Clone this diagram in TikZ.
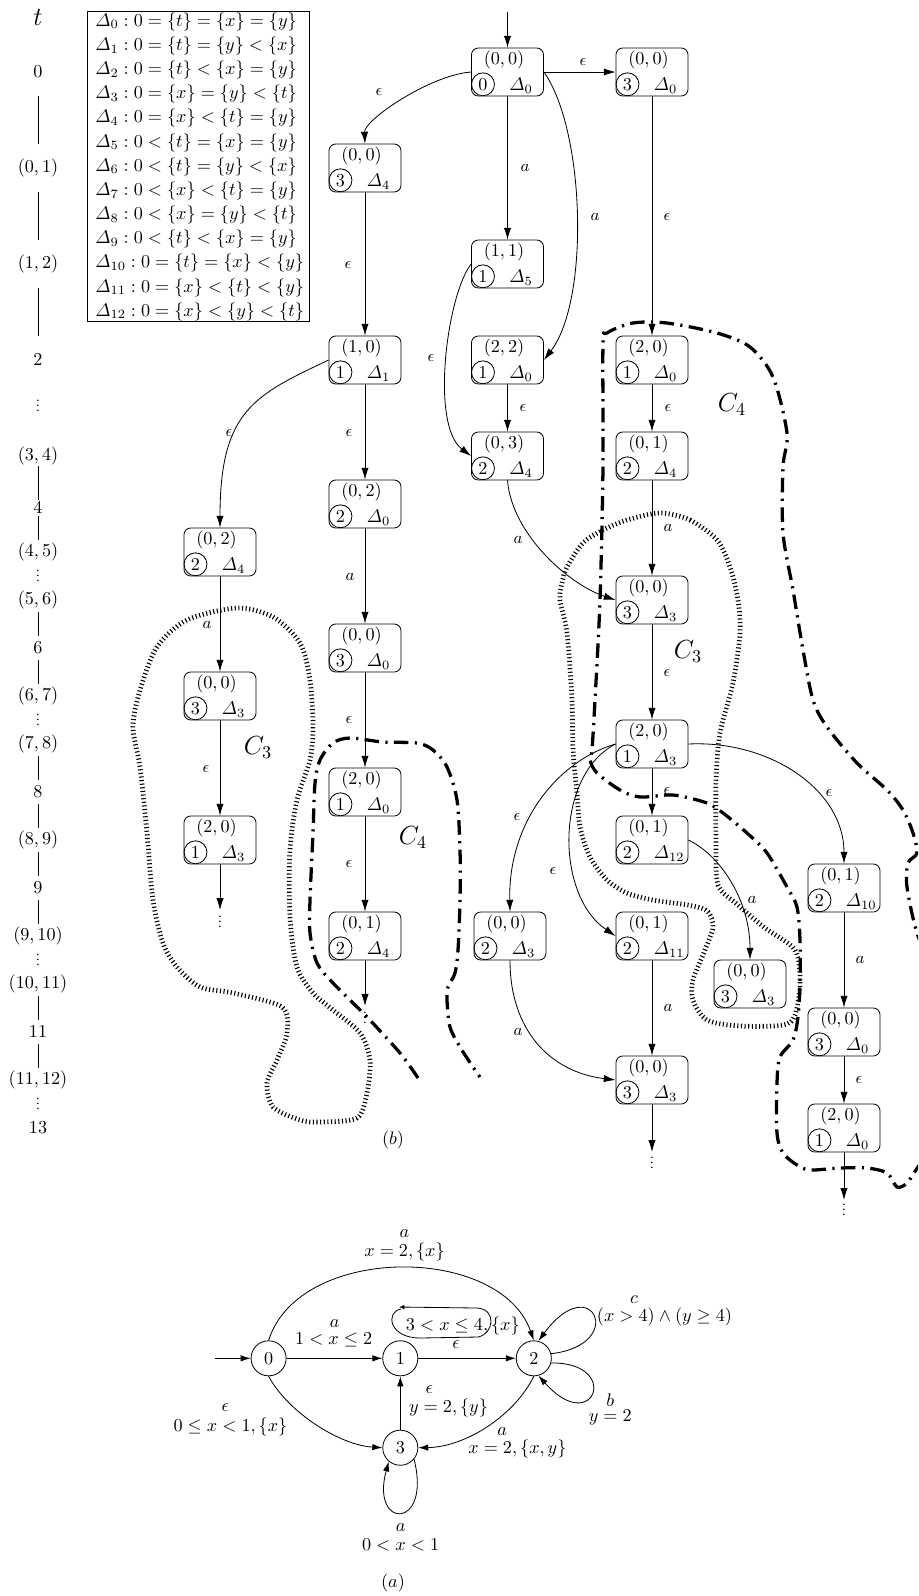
\documentclass[tikz,border=0pt]{standalone}
\usepackage{amsmath,amssymb}
\usetikzlibrary{arrows.meta,calc,shapes.geometric}
\tikzset{
  ln/.style={line width=0.45pt},
  arr/.style={ln,-{Latex[length=6.5pt,width=4pt]}},
  arra/.style={ln,-{Latex[length=5.5pt,width=3.5pt]}},
  cbox/.style={draw,ln,rounded corners=3.7pt,minimum width=39.6pt,minimum height=26.4pt,inner sep=0pt},
  ctop/.style={inner sep=0pt},
  cst/.style={draw,ln,circle,minimum size=12.6pt,inner sep=0pt},
  cdl/.style={inner sep=0pt,anchor=west},
  lab/.style={inner sep=0pt,font=\small},
  alab/.style={inner sep=0pt},
  tlab/.style={inner sep=0pt},
  tbar/.style={ln},
  loc/.style={draw,ln,circle,minimum size=19.3pt,inner sep=0pt},
  czone/.style={line width=2.6pt,dash pattern=on 0.6pt off 1.4pt},
  dzone/.style={line width=1.8pt,dash pattern=on 8pt off 3.5pt on 1.2pt off 3.5pt},
  bigl/.style={inner sep=0pt,font=\Large},
}
\newcommand{\cfgbox}[6]{%
  \node[cbox] (#1) at (#2,#3) {};
  \node[ctop] (#1t) at ($(#1.center)+(-3.5,-12)$) {$#4$};
  \node[cst] (#1c) at ($(#1.center)+(-24.5,12.3)$) {$#5$};
  \node[cdl] (#1d) at ($(#1.center)+(1.5,13.5)$) {$\varDelta_{#6}$};
}
\newcommand{\vd}{\scalebox{1}[0.7]{$\vdots$}}
\begin{document}
\begin{tikzpicture}[x=0.55pt,y=-0.55pt]
\useasboundingbox (0,0) rectangle (918,1596);

% ---------- time column ----------
\node[tlab,font=\Large] (tt) at (38,17) {$t$};
\node[tlab] (T0) at (38,72) {$0$};
\node[tlab] (T1) at (38,168) {$(0,1)$};
\node[tlab] (T2) at (38,264) {$(1,2)$};
\node[tlab] (T3) at (38,360) {$2$};
\node[tlab] (D1) at (38,402) {\vd};
\node[tlab] (T4) at (38,456) {$(3,4)$};
\node[tlab] (T5) at (38,508) {$4$};
\node[tlab] (T6) at (38,552) {$(4,5)$};
\node[tlab] (D2) at (38,572) {\vd};
\node[tlab] (T7) at (38,600) {$(5,6)$};
\node[tlab] (T8) at (38,648) {$6$};
\node[tlab] (T9) at (38,696) {$(6,7)$};
\node[tlab] (D3) at (38,716) {\vd};
\node[tlab] (T10) at (38,744) {$(7,8)$};
\node[tlab] (T11) at (38,792) {$8$};
\node[tlab] (T12) at (38,840) {$(8,9)$};
\node[tlab] (T13) at (38,888) {$9$};
\node[tlab] (T14) at (38,936) {$(9,10)$};
\node[tlab] (D4) at (38,956) {\vd};
\node[tlab] (T15) at (38,984) {$(10,11)$};
\node[tlab] (T16) at (38,1032) {$11$};
\node[tlab] (T17) at (38,1080) {$(11,12)$};
\node[tlab] (D5) at (38,1100) {\vd};
\node[tlab] (T18) at (38,1128) {$13$};
\draw[tbar,shorten <=13.2pt,shorten >=13.2pt] (T0.center) -- (T1.center);
\draw[tbar,shorten <=13.2pt,shorten >=13.2pt] (T1.center) -- (T2.center);
\draw[tbar,shorten <=13.2pt,shorten >=13.2pt] (T2.center) -- (T3.center);
\draw[tbar,shorten <=5.5pt,shorten >=4.4pt] (T4.center) -- (T5.center);
\draw[tbar,shorten <=4.4pt,shorten >=6.6pt] (T5.center) -- (T6.center);
\foreach \a/\b in {T7/T8,T8/T9,T10/T11,T11/T12,T12/T13,T13/T14,T15/T16,T16/T17}
  \draw[tbar,shorten <=6.6pt,shorten >=6.6pt] (\a.center) -- (\b.center);

% ---------- table ----------
\node[draw,ln,minimum width=122.1pt,minimum height=170.5pt,inner sep=0pt] (tbl) at (198.3,166.7) {};
\node[cdl] (r0) at (95,21.7) {$\varDelta_0: 0=\{t\}=\{x\}=\{y\}$};
\node[cdl] (r1) at (95,45.9) {$\varDelta_1: 0=\{t\}=\{y\}<\{x\}$};
\node[cdl] (r2) at (95,70.0) {$\varDelta_2: 0=\{t\}<\{x\}=\{y\}$};
\node[cdl] (r3) at (95,94.2) {$\varDelta_3: 0=\{x\}=\{y\}<\{t\}$};
\node[cdl] (r4) at (95,118.4) {$\varDelta_4: 0=\{x\}<\{t\}=\{y\}$};
\node[cdl] (r5) at (95,142.6) {$\varDelta_5: 0<\{t\}=\{x\}=\{y\}$};
\node[cdl] (r6) at (95,166.7) {$\varDelta_6: 0<\{t\}=\{y\}<\{x\}$};
\node[cdl] (r7) at (95,190.9) {$\varDelta_7: 0<\{x\}<\{t\}=\{y\}$};
\node[cdl] (r8) at (95,215.1) {$\varDelta_8: 0<\{x\}=\{y\}<\{t\}$};
\node[cdl] (r9) at (95,239.2) {$\varDelta_9: 0<\{t\}<\{x\}=\{y\}$};
\node[cdl] (r10) at (95,263.4) {$\varDelta_{10}: 0=\{t\}=\{x\}<\{y\}$};
\node[cdl] (r11) at (95,287.6) {$\varDelta_{11}: 0=\{x\}<\{t\}<\{y\}$};
\node[cdl] (r12) at (95,311.7) {$\varDelta_{12}: 0=\{x\}<\{y\}<\{t\}$};

% ---------- configuration boxes (b) ----------
\cfgbox{n0}{507.5}{72}{(0,0)}{0}{0}
\cfgbox{n1}{652}{72}{(0,0)}{3}{0}
\cfgbox{n2}{365}{168}{(0,0)}{3}{4}
\cfgbox{n3}{507.5}{264}{(1,1)}{1}{5}
\cfgbox{n4}{365}{360}{(1,0)}{1}{1}
\cfgbox{n5}{507.5}{360}{(2,2)}{1}{0}
\cfgbox{n6}{652}{360}{(2,0)}{1}{0}
\cfgbox{n7}{507.5}{456}{(0,3)}{2}{4}
\cfgbox{n8}{652}{456}{(0,1)}{2}{4}
\cfgbox{n9}{365}{504}{(0,2)}{2}{0}
\cfgbox{n10}{220}{552}{(0,2)}{2}{4}
\cfgbox{n11}{652}{600}{(0,0)}{3}{3}
\cfgbox{n12}{365}{648}{(0,0)}{3}{0}
\cfgbox{n13}{220}{696}{(0,0)}{3}{3}
\cfgbox{n14}{652}{744}{(2,0)}{1}{3}
\cfgbox{n15}{365}{792}{(2,0)}{1}{0}
\cfgbox{n16}{220}{840}{(2,0)}{1}{3}
\cfgbox{n17}{652}{840}{(0,1)}{2}{12}
\cfgbox{n18}{844}{888}{(0,1)}{2}{10}
\cfgbox{n19}{365}{936}{(0,1)}{2}{4}
\cfgbox{n20}{510}{936}{(0,0)}{2}{3}
\cfgbox{n21}{652}{936}{(0,1)}{2}{11}
\cfgbox{n22}{750}{984}{(0,0)}{3}{3}
\cfgbox{n23}{844}{1032}{(0,0)}{3}{0}
\cfgbox{n24}{652}{1080}{(0,0)}{3}{3}
\cfgbox{n25}{844}{1128}{(2,0)}{1}{0}

\coordinate (start) at (507.5,12);
\coordinate (e16) at (220,910);
\coordinate (e19) at (365,1006);
\coordinate (e24) at (652,1152);
\coordinate (e25) at (844,1200);

\draw[arr] (start) -- (n0);
\draw[arr] (n0) -- (n1);
\draw[arr] (n0.west) .. controls (430,75) and (364,120) .. (n2.north);
\draw[arr] (n0) -- (n3);
\draw[arr] (n0.east) .. controls (585,130) and (590,300) .. (n5.east);
\draw[arr] (n1) -- (n6);
\draw[arr] (n2) -- (n4);
\draw[arr] (n3.west) .. controls (447,295) and (430,425) .. (n7.west);
\draw[arr] (n5) -- (n7);
\draw[arr] (n4) -- (n9);
\draw[arr] (n4.west) .. controls (255,395) and (220,410) .. (n10.north);
\draw[arr] (n6) -- (n8);
\draw[arr] (n8) -- (n11);
\draw[arr] (n7.south) .. controls (512,535) and (570,585) .. (n11.west);
\draw[arr] (n9) -- (n12);
\draw[arr] (n10) -- (n13);
\draw[arr] (n11) -- (n14);
\draw[arr] (n12) -- (n15);
\draw[arr] (n13) -- (n16);
\draw[arr] (n14) -- (n17);
\draw[arr] (n14.west) .. controls (560,760) and (508,820) .. (n20.north);
\draw[arr] (n14.west) .. controls (555,775) and (555,895) .. (n21.west);
\draw[arr] (n14.east) .. controls (770,740) and (844,790) .. (n18.north);
\draw[arr] (n15) -- (n19);
\draw[arr] (n16) -- (e16);
\draw[arr] (n19) -- (e19);
\draw[arr] (n17.east) .. controls (720,855) and (750,900) .. (n22.north);
\draw[arr] (n21) -- (n24);
\draw[arr] (n20.south) .. controls (510,1030) and (550,1072) .. (n24.west);
\draw[arr] (n18) -- (n23);
\draw[arr] (n23) -- (n25);
\draw[arr] (n24) -- (e24);
\draw[arr] (n25) -- (e25);

\node[tlab] (v1) at (220,918) {\vd};
\node[tlab] (v2) at (365,1014) {\vd};
\node[tlab] (v3) at (652,1159) {\vd};
\node[tlab] (v4) at (844,1206) {\vd};

% edge labels (b)
\node[lab] (l1) at (583,62) {$\epsilon$};
\node[lab] (l2) at (379,92) {$\epsilon$};
\node[lab] (l3) at (525,168) {$a$};
\node[lab] (l4) at (595,217) {$a$};
\node[lab] (l5) at (667,217) {$\epsilon$};
\node[lab] (l6) at (348,265) {$\epsilon$};
\node[lab] (l7) at (431,358) {$\epsilon$};
\node[lab] (l8) at (523,408) {$\epsilon$};
\node[lab] (l9) at (349,433) {$\epsilon$};
\node[lab] (l10) at (229,433) {$\epsilon$};
\node[lab] (l11) at (668,408) {$\epsilon$};
\node[lab] (l12) at (668,528) {$a$};
\node[lab] (l13) at (518,540) {$a$};
\node[lab] (l14) at (350,577) {$a$};
\node[lab] (l15) at (207,625) {$a$};
\node[lab] (l16) at (667,673) {$\epsilon$};
\node[lab] (l17) at (349,720) {$\epsilon$};
\node[lab] (l18) at (206,769) {$\epsilon$};
\node[lab] (l19) at (667,791) {$\epsilon$};
\node[lab] (l20) at (517,817) {$\epsilon$};
\node[lab] (l21) at (829,793) {$\epsilon$};
\node[lab] (l22) at (349,864) {$\epsilon$};
\node[lab] (l23) at (553,871) {$\epsilon$};
\node[lab] (l24) at (752,900) {$a$};
\node[lab] (l25) at (860,960) {$a$};
\node[lab] (l26) at (668,1008) {$a$};
\node[lab] (l27) at (518,1032) {$a$};
\node[lab] (l28) at (859,1080) {$\epsilon$};

% zone labels
\node[bigl] (C4a) at (732,405) {$C_4$};
\node[bigl] (C3a) at (688,652) {$C_3$};
\node[bigl] (C3b) at (258,748) {$C_3$};
\node[bigl] (C4b) at (413,838) {$C_4$};
\node[tlab] (capb) at (393,1140) {$(b)$};

% zones
\draw[czone] plot[smooth cycle] coordinates {(237,608) (273,617) (300,643) (310,680) (313,727) (310,760) (297,800) (290,850) (290,917) (297,967) (313,993) (333,1010) (360,1033) (370,1060) (367,1093) (357,1118) (320,1122) (300,1120) (273,1107) (267,1083) (277,1060) (287,1033) (282,1007) (233,993) (200,987) (177,967) (163,943) (153,900) (147,833) (140,767) (133,727) (140,690) (157,647) (187,620)};
\draw[czone] plot[smooth cycle] coordinates {(660,513) (690,520) (717,540) (730,567) (738,600) (740,633) (733,683) (720,733) (716,780) (716,840) (718,885) (738,905) (765,928) (795,950) (800,983) (795,1015) (783,1025) (740,1026) (707,1020) (693,1000) (693,980) (705,950) (713,927) (708,912) (693,906) (653,900) (627,893) (607,880) (590,857) (580,827) (577,793) (573,750) (572,700) (567,633) (560,600) (562,583) (567,567) (583,543) (603,530) (627,520)};
\draw[dzone] plot[smooth] coordinates {(418,1078) (400,1053) (367,1017) (333,983) (317,963) (310,933) (310,900) (313,833) (315,783) (320,760) (333,743) (350,738) (383,742) (417,743) (433,750) (447,767) (457,800) (460,850) (460,900) (458,950) (455,973) (448,987) (447,1000) (450,1027) (460,1047) (473,1067) (480,1077)};
\begin{scope}
\clip (0,0) rectangle (918,1596);
\draw[dzone] plot[smooth] coordinates {(935,975) (917,933) (907,887) (908,863) (917,853) (913,833) (903,810) (887,790) (857,763) (827,727) (813,700) (803,650) (793,590) (783,533) (783,467) (787,433) (773,377) (750,347) (717,333) (667,323) (633,323) (607,333) (603,345) (603,467) (600,600) (595,700) (592,750) (590,760) (597,773) (620,790) (640,797) (673,795) (707,803) (723,813) (747,833) (767,853) (787,887) (797,907) (800,940) (800,983) (798,1017) (793,1040) (780,1057) (777,1083) (777,1133) (783,1153) (797,1165) (810,1170) (840,1168) (867,1168) (887,1173) (897,1187) (907,1183) (918,1167) (930,1150)};
\end{scope}

% ---------- automaton (a) ----------
\node[loc] (s0) at (268.6,1358.3) {$0$};
\node[loc] (s1) at (400.3,1358.3) {$1$};
\node[loc] (s2) at (533.8,1358.3) {$2$};
\node[loc] (s3) at (400.3,1447.7) {$3$};
\coordinate (ini) at (215.4,1358.3);
\draw[arra] (ini) -- (s0);
\draw[arra] (s0) -- (s1);
\draw[arra] (s1) -- (s2);
\draw[arra] (s3) -- (s1);
\draw[arra] (s0.north) .. controls (299,1244) and (500,1244) .. (s2.north);
\draw[arra] (s2.15) .. controls (628,1345) and (592,1268) .. (s2.75);
\draw[arra] (s2.-15) .. controls (622,1362) and (594,1438) .. (s2.-75);
\draw[arra] (s0.south) .. controls (288,1412) and (339,1445) .. (s3.west);
\draw[arra] (s2.south) .. controls (515,1415) and (466,1447) .. (s3.east);
\draw[arra] (s3.-40) .. controls (432,1530) and (370,1530) .. (s3.-130);
\draw[ln,{Latex[length=3pt,width=2.5pt]}-] (399,1307) -- (477,1308) .. controls (497,1309) and (494,1334) .. (478,1337) -- (420,1338) .. controls (389,1338) and (385,1312) .. (401,1309);

\node[alab] (la1) at (404.5,1234) {$a$};
\node[alab] (la2) at (404.5,1251.7) {$x=2,\{x\}$};
\node[alab] (lb1) at (334.8,1323.3) {$a$};
\node[alab] (lb2) at (333.7,1340) {$1<x\leq 2$};
\node[alab] (lc1) at (462.8,1325.7) {$3<x\leq 4,\{x\}$};
\node[alab] (lc2) at (456.1,1345) {$\epsilon$};
\node[alab] (ld1) at (634.1,1300) {$c$};
\node[alab] (ld2) at (664.5,1316.7) {$(x>4)\wedge(y\geq 4)$};
\node[alab] (le1) at (610.3,1400) {$b$};
\node[alab] (le2) at (610.3,1417.7) {$y=2$};
\node[alab] (lf1) at (502.1,1431.7) {$a$};
\node[alab] (lf2) at (517.4,1449) {$x=2,\{x,y\}$};
\node[alab] (lg1) at (225.4,1407.3) {$\epsilon$};
\node[alab] (lg2) at (230.4,1426.7) {$0\leq x<1,\{x\}$};
\node[alab] (lh1) at (429.3,1390) {$\epsilon$};
\node[alab] (lh2) at (448.5,1408.3) {$y=2,\{y\}$};
\node[alab] (li1) at (400.6,1527.7) {$a$};
\node[alab] (li2) at (400.6,1545) {$0<x<1$};
\node[tlab] (capa) at (393,1583.3) {$(a)$};
\end{tikzpicture}
\end{document}
